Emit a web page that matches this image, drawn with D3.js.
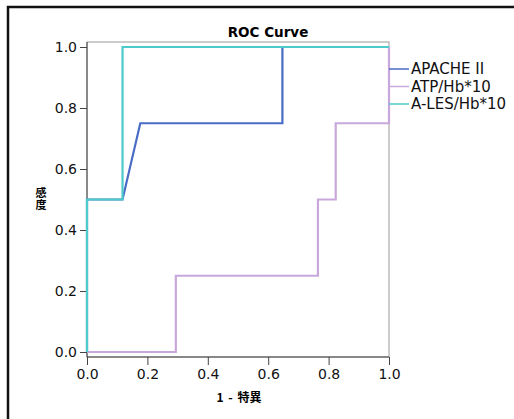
<!DOCTYPE html>
<html>
<head>
<meta charset="utf-8">
<script src="https://cdn.jsdelivr.net/npm/d3@7"></script>
<style>
	body { margin: 0; background: #fff; }
	text { font-family: "DejaVu Sans", sans-serif; }
</style>
</head>
<body>
<div id="chart"></div>
<script>
// series names and colors
var seriesNames = ['APACHE II', 'ATP/Hb*10', 'A-LES/Hb*10'];
var seriesColors = ['#4a6bc6', '#c8a8dc', '#4ccacc'];

// ROC points as [1 - specificity, sensitivity]
var apacheX = [0, 0, 2/17, 3/17, 11/17, 11/17, 1];
var apacheY = [0, 0.5, 0.5, 0.75, 0.75, 1, 1];
var atpX = [0, 5/17, 5/17, 13/17, 13/17, 14/17, 14/17, 1, 1];
var atpY = [0, 0, 0.25, 0.25, 0.5, 0.5, 0.75, 0.75, 1];
var alesX = [0, 0, 2/17, 2/17, 1];
var alesY = [0, 0.5, 0.5, 1, 1];

var tickValues = [0, 0.2, 0.4, 0.6, 0.8, 1.0];

var width = 514, height = 419;
var svg = d3.select('#chart').append('svg')
	.attr('width', width)
	.attr('height', height);

// outer frame (only top and left edges visible)
svg.append('path')
	.attr('d', 'M8,' + height + 'V7H' + width)
	.attr('fill', 'none')
	.attr('stroke', '#111')
	.attr('stroke-width', 2.5);

var x = d3.scaleLinear().domain([0, 1]).range([87, 389]);
var y = d3.scaleLinear().domain([0, 1]).range([352, 47]);
var boxTop = 42, boxBottom = 357;

// plot box
svg.append('rect')
	.attr('x', x(0)).attr('y', boxTop)
	.attr('width', x(1) - x(0)).attr('height', boxBottom - boxTop)
	.attr('fill', 'none')
	.attr('stroke', '#999')
	.attr('stroke-width', 1);

// axes
var yAxis = d3.axisLeft(y).tickValues(tickValues).tickSize(7).tickPadding(3)
	.tickFormat(d3.format('.1f'));
var gy = svg.append('g').attr('transform', 'translate(' + x(0) + ',0)').call(yAxis);
gy.select('.domain').attr('d', 'M0,' + boxTop + 'V' + boxBottom).attr('stroke', '#444');

var xAxis = d3.axisBottom(x).tickValues(tickValues).tickSize(8).tickPadding(4)
	.tickFormat(d3.format('.1f'));
var gx = svg.append('g').attr('transform', 'translate(0,' + boxBottom + ')').call(xAxis);
gx.select('.domain').attr('d', 'M' + x(0) + ',0H' + x(1)).attr('stroke', '#444');

svg.selectAll('.tick line').attr('stroke', '#444');
svg.selectAll('.tick text')
	.attr('font-size', '14px')
	.attr('fill', '#111')
	.style('font-family', '"DejaVu Sans", sans-serif');

// curves
var series = [
	{ name: seriesNames[0], xs: apacheX, ys: apacheY, color: seriesColors[0] },
	{ name: seriesNames[1], xs: atpX, ys: atpY, color: seriesColors[1] },
	{ name: seriesNames[2], xs: alesX, ys: alesY, color: seriesColors[2] }
];

var line = d3.line()
	.x(function(d) { return x(d[0]); })
	.y(function(d) { return y(d[1]); });

svg.selectAll('path.curve')
	.data(series)
	.enter()
	.append('path')
	.attr('class', 'curve')
	.attr('d', function(s) { return line(d3.zip(s.xs, s.ys)); })
	.attr('fill', 'none')
	.attr('stroke', function(s) { return s.color; })
	.attr('stroke-width', 2.2);

// legend
var legend = svg.selectAll('g.legend')
	.data(series)
	.enter()
	.append('g')
	.attr('class', 'legend')
	.attr('transform', function(d, i) { return 'translate(' + x(1) + ',' + (69 + i * 17.5) + ')'; });

legend.append('line')
	.attr('x1', 0).attr('x2', 20)
	.attr('stroke', function(d) { return d.color; })
	.attr('stroke-width', 1.5);

legend.append('text')
	.attr('x', 22)
	.attr('dy', '0.35em')
	.attr('font-size', '15px')
	.attr('fill', '#111')
	.text(function(d) { return d.name; });

// title and axis labels
svg.append('text')
	.attr('x', 268).attr('y', 37)
	.attr('text-anchor', 'middle')
	.attr('font-size', '13.5px')
	.attr('font-weight', 'bold')
	.text('ROC Curve');

svg.append('text')
	.attr('x', 239).attr('y', 402)
	.attr('text-anchor', 'middle')
	.attr('font-size', '12px')
	.attr('font-weight', 'bold')
	.style('font-family', '"Noto Sans CJK JP", sans-serif')
	.style('word-spacing', '2px')
	.text('1 - 特異');

// vertical y label, characters stacked top to bottom
svg.append('text')
	.attr('x', 41)
	.attr('y', 187)
	.attr('font-size', '11px')
	.attr('font-weight', 'bold')
	.style('font-family', '"Noto Sans CJK JP", sans-serif')
	.style('writing-mode', 'vertical-rl')
	.style('text-orientation', 'upright')
	.style('letter-spacing', '1px')
	.text('感度');
</script>
</body>
</html>
